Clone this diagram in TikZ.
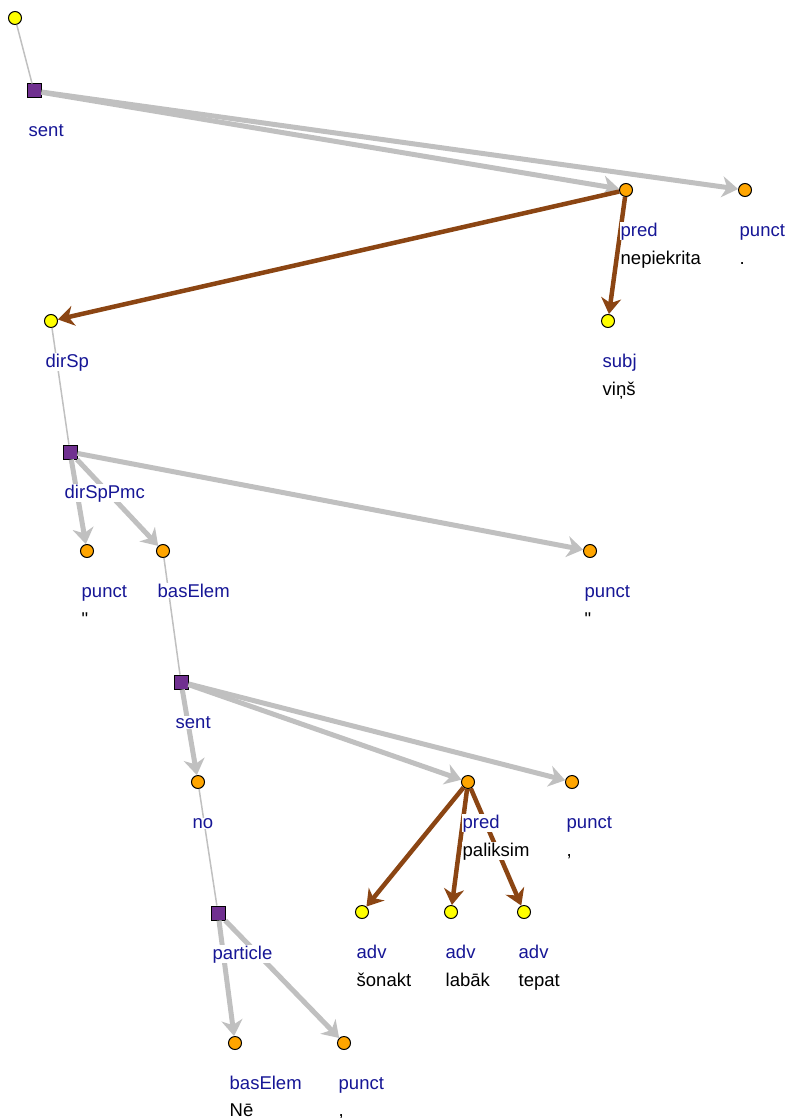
\documentclass[tikz,border=0pt]{standalone}
\usepackage{fontspec}
\setmainfont{Liberation Sans}
\newfontfamily\rawfont{Liberation Sans}[Ligatures=TeXOff]
\usetikzlibrary{arrows.meta,calc}
\definecolor{roleblue}{RGB}{22,22,150}
\definecolor{arcbrown}{RGB}{139,69,19}
\definecolor{linkgray}{RGB}{192,192,192}
\definecolor{boxpurple}{RGB}{112,48,144}
\definecolor{dotyellow}{RGB}{255,255,0}
\definecolor{dotorange}{RGB}{255,165,0}
\tikzstyle{yellow node} = [circle,draw,line width=1pt,minimum size=13pt,inner sep=0,fill=dotyellow]
\tikzstyle{orange node} = [circle,draw,line width=1pt,minimum size=13pt,inner sep=0,fill=dotorange]
\tikzstyle{phrase node} = [rectangle,draw,line width=1pt,minimum size=14pt,inner sep=0,fill=boxpurple]

\begin{document}
\begin{tikzpicture}[x=1pt, y=-1pt,
                    font=\fontsize{18.5}{20}\selectfont,
                    tie/.style={draw=linkgray, line width=1.5pt},
                    gray arrow/.style={draw=linkgray, line width=5pt, -{Stealth[length=16pt,width=21pt,inset=5pt]}},
                    brown arrow/.style={draw=arcbrown, line width=4.5pt, -{Stealth[length=16pt,width=20pt,inset=5pt]}},
                    role/.style={anchor=base west, fill=white, inner sep=0.5pt, text=roleblue},
                    word/.style={anchor=base west, fill=white, inner sep=0.5pt, text=black}
                    ]
\useasboundingbox (0,0) rectangle (788,1118);

    \node(root)[yellow node] at (15,18) {};
    \node(s1)[phrase node] at (34,91) {};
    \node(pred1)[orange node] at (626,190) {};
    \node(punct1)[orange node] at (745,190) {};
    \node(dirsp)[yellow node] at (51,321) {};
    \node(subj)[yellow node] at (608,321) {};
    \node(pmc)[phrase node] at (70,452) {};
    \node(q1)[orange node] at (87,551) {};
    \node(bas1)[orange node] at (163,551) {};
    \node(q2)[orange node] at (590,551) {};
    \node(s2)[phrase node] at (181,682) {};
    \node(no)[orange node] at (198,782) {};
    \node(pred2)[orange node] at (468,782) {};
    \node(punct2)[orange node] at (572,782) {};
    \node(part)[phrase node] at (218,913) {};
    \node(adv1)[yellow node] at (362,912) {};
    \node(adv2)[yellow node] at (451,912) {};
    \node(adv3)[yellow node] at (524,912) {};
    \node(bas2)[orange node] at (235,1043) {};
    \node(punct3)[orange node] at (344,1043) {};

    \draw[tie] (root) -- (s1);
    \draw[gray arrow] (s1) -- (pred1);
    \draw[gray arrow] (s1) -- (punct1);
    \draw[brown arrow] (pred1) -- (dirsp);
    \draw[brown arrow] (pred1) -- (subj);
    \draw[tie] (dirsp) -- (pmc);
    \draw[gray arrow] (pmc) -- (q1);
    \draw[gray arrow] (pmc) -- (bas1);
    \draw[gray arrow] (pmc) -- (q2);
    \draw[tie] (bas1) -- (s2);
    \draw[gray arrow] (s2) -- (no);
    \draw[gray arrow] (s2) -- (pred2);
    \draw[gray arrow] (s2) -- (punct2);
    \draw[tie] (no) -- (part);
    \draw[brown arrow] (pred2) -- (adv1);
    \draw[brown arrow] (pred2) -- (adv2);
    \draw[brown arrow] (pred2) -- (adv3);
    \draw[gray arrow] (part) -- (bas2);
    \draw[gray arrow] (part) -- (punct3);

    \node(s1-r)[role] at ($(s1)+(-6,46)$) {sent};
    \node(pred1-r)[role] at ($(pred1)+(-6,46)$) {pred};
    \node(pred1-w)[word] at ($(pred1)+(-6,74)$) {nepiekrita};
    \node(punct1-r)[role] at ($(punct1)+(-6,46)$) {punct};
    \node(punct1-w)[word] at ($(punct1)+(-6,74)$) {.};
    \node(dirsp-r)[role] at ($(dirsp)+(-6,46)$) {dirSp};
    \node(subj-r)[role] at ($(subj)+(-6,46)$) {subj};
    \node(subj-w)[word] at ($(subj)+(-6,74)$) {viņš};
    \node(pmc-r)[role] at ($(pmc)+(-6,46)$) {dirSpPmc};
    \node(q1-r)[role] at ($(q1)+(-6,46)$) {punct};
    \node(q1-w)[word] at ($(q1)+(-6,74)$) {\rawfont"};
    \node(bas1-r)[role] at ($(bas1)+(-6,46)$) {basElem};
    \node(q2-r)[role] at ($(q2)+(-6,46)$) {punct};
    \node(q2-w)[word] at ($(q2)+(-6,74)$) {\rawfont"};
    \node(s2-r)[role] at ($(s2)+(-6,46)$) {sent};
    \node(no-r)[role] at ($(no)+(-6,46)$) {no};
    \node(pred2-r)[role] at ($(pred2)+(-6,46)$) {pred};
    \node(pred2-w)[word] at ($(pred2)+(-6,74)$) {paliksim};
    \node(punct2-r)[role] at ($(punct2)+(-6,46)$) {punct};
    \node(punct2-w)[word] at ($(punct2)+(-6,74)$) {,};
    \node(part-r)[role] at ($(part)+(-6,46)$) {particle};
    \node(adv1-r)[role] at ($(adv1)+(-6,46)$) {adv};
    \node(adv1-w)[word] at ($(adv1)+(-6,74)$) {šonakt};
    \node(adv2-r)[role] at ($(adv2)+(-6,46)$) {adv};
    \node(adv2-w)[word] at ($(adv2)+(-6,74)$) {labāk};
    \node(adv3-r)[role] at ($(adv3)+(-6,46)$) {adv};
    \node(adv3-w)[word] at ($(adv3)+(-6,74)$) {tepat};
    \node(bas2-r)[role] at ($(bas2)+(-6,46)$) {basElem};
    \node(bas2-w)[word] at ($(bas2)+(-6,73)$) {Nē};
    \node(punct3-r)[role] at ($(punct3)+(-6,46)$) {punct};
    \node(punct3-w)[word] at ($(punct3)+(-6,73)$) {,};

\end{tikzpicture}
\end{document}
